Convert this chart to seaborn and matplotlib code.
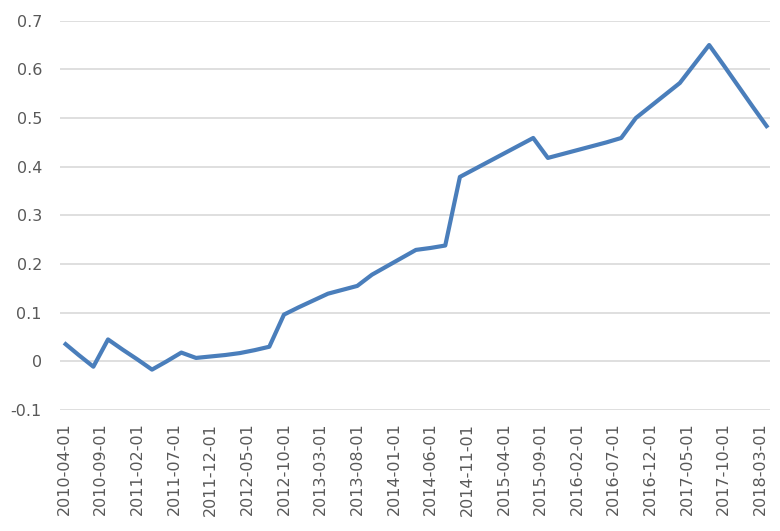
import matplotlib
matplotlib.use("Agg")
import matplotlib.pyplot as plt
import seaborn as sns
import pandas as pd
import numpy as np

# Bimonthly series
dates = pd.date_range("2010-04-01", "2018-04-01", freq="2MS")
values = [
    0.038, 0.013, -0.011, 0.045, 0.024, 0.004, -0.017, 0.000, 0.018, 0.007,
    0.010, 0.013, 0.017, 0.023, 0.030, 0.096, 0.111, 0.125, 0.139, 0.147,
    0.155, 0.178, 0.195, 0.212, 0.229, 0.233, 0.238, 0.379, 0.395, 0.411,
    0.427, 0.443, 0.459, 0.418, 0.426, 0.434, 0.442, 0.450, 0.459, 0.500,
    0.524, 0.548, 0.572, 0.611, 0.650, 0.608, 0.565, 0.522, 0.480,
]
tick_labels = [
    "2010-04-01", "2010-09-01", "2011-02-01", "2011-07-01", "2011-12-01",
    "2012-05-01", "2012-10-01", "2013-03-01", "2013-08-01", "2014-01-01",
    "2014-06-01", "2014-11-01", "2015-04-01", "2015-09-01", "2016-02-01",
    "2016-07-01", "2016-12-01", "2017-05-01", "2017-10-01", "2018-03-01",
]
y_ticks = [-0.1, 0, 0.1, 0.2, 0.3, 0.4, 0.5, 0.6, 0.7]
y_tick_labels = ["-0.1", "0", "0.1", "0.2", "0.3", "0.4", "0.5", "0.6", "0.7"]


def month_index(ts):
    ts = pd.Timestamp(ts)
    return (ts.year - 2010) * 12 + ts.month - 4


df = pd.DataFrame({"m": [month_index(d) for d in dates], "value": values})

sns.set_theme(style="white")
plt.rcParams["font.family"] = ["DejaVu Sans"]

fig = plt.figure(figsize=(7.8, 5.31), dpi=100)
ax = fig.add_axes([60 / 780, (531 - 410) / 531, 710 / 780, (410 - 20.7) / 531])

ax.yaxis.grid(True, color="#d9d9d9", linewidth=1.2)
ax.set_axisbelow(True)

sns.lineplot(data=df, x="m", y="value", ax=ax, color="#4a7ebb", linewidth=3.0,
             solid_joinstyle="round", solid_capstyle="butt")

ax.set_ylim(-0.1, 0.7)
ax.set_xlim(-0.55, 96.3)
ax.set_yticks(y_ticks)
ax.set_yticklabels(y_tick_labels)
ax.set_xticks([month_index(t) for t in tick_labels])
ax.set_xticklabels(tick_labels, rotation=90)

ax.tick_params(axis="y", length=0, pad=13, labelsize=11.5, labelcolor="#595959")
ax.tick_params(axis="x", length=0, pad=9, labelsize=11.5, labelcolor="#595959")
ax.set_xlabel("")
ax.set_ylabel("")
for s in ax.spines.values():
    s.set_visible(False)

fig.savefig("out.png", dpi=100)
